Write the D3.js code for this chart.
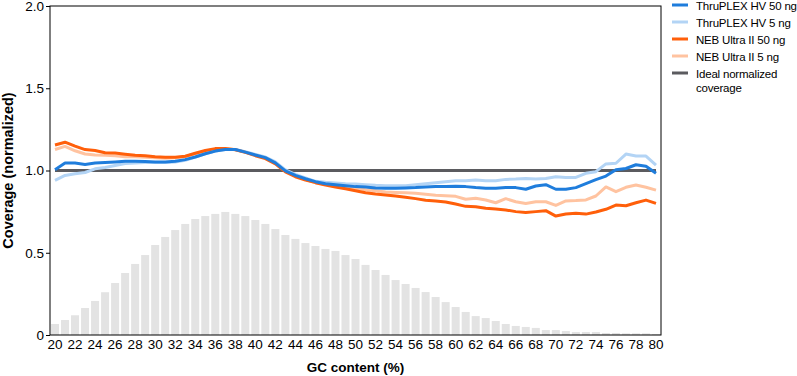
<!DOCTYPE html>
<html><head><meta charset="utf-8">
<script src="https://cdn.jsdelivr.net/npm/d3@7"></script>
<style>
body{margin:0;background:#fff;}
svg{display:block;font-family:"Liberation Sans",Arial,Helvetica,sans-serif;}
</style></head>
<body><svg id="c" width="797" height="376"></svg>
<script>
const gc = d3.range(20, 81);
const xTickLabels = d3.range(20, 81, 2);
const yTickValues = [0, 0.5, 1.0, 1.5, 2.0];
const yTickLabels = ["0", "0.5", "1.0", "1.5", "2.0"];

const gcBars = [0.067,0.091,0.12,0.164,0.207,0.26,0.316,0.377,0.432,0.486,0.547,0.596,0.638,0.675,0.705,0.723,0.736,0.748,0.736,0.723,0.699,0.675,0.644,0.608,0.584,0.559,0.541,0.523,0.511,0.486,0.462,0.426,0.395,0.365,0.334,0.31,0.286,0.261,0.231,0.2,0.17,0.14,0.115,0.103,0.085,0.067,0.055,0.049,0.043,0.03,0.03,0.024,0.018,0.018,0.018,0.012,0.012,0.01,0.01,0.01,0.006];

const thruplex50 = [1.005,1.045,1.045,1.037,1.045,1.048,1.052,1.056,1.056,1.054,1.052,1.052,1.056,1.066,1.082,1.102,1.118,1.128,1.128,1.112,1.094,1.078,1.046,0.998,0.970,0.950,0.932,0.920,0.914,0.908,0.902,0.900,0.894,0.892,0.892,0.894,0.896,0.900,0.902,0.902,0.904,0.902,0.896,0.892,0.892,0.896,0.896,0.886,0.906,0.914,0.886,0.886,0.896,0.920,0.944,0.966,1.005,1.012,1.035,1.026,0.983];
const thruplex5 = [0.940,0.970,0.980,0.988,1.010,1.018,1.030,1.042,1.046,1.048,1.048,1.048,1.052,1.062,1.082,1.102,1.118,1.128,1.128,1.114,1.098,1.082,1.052,1.004,0.976,0.955,0.934,0.928,0.924,0.920,0.918,0.914,0.910,0.908,0.908,0.908,0.914,0.920,0.926,0.932,0.938,0.938,0.942,0.938,0.938,0.946,0.948,0.952,0.948,0.952,0.962,0.958,0.958,0.983,0.993,1.040,1.044,1.100,1.088,1.088,1.033];
const neb50 = [1.155,1.172,1.148,1.127,1.122,1.108,1.106,1.099,1.093,1.090,1.084,1.080,1.080,1.087,1.105,1.122,1.133,1.134,1.126,1.110,1.090,1.072,1.040,0.992,0.962,0.942,0.926,0.912,0.900,0.889,0.877,0.865,0.857,0.851,0.845,0.837,0.829,0.819,0.815,0.809,0.796,0.782,0.780,0.770,0.766,0.760,0.750,0.744,0.750,0.756,0.723,0.735,0.740,0.735,0.748,0.764,0.790,0.786,0.804,0.820,0.800];
const neb5 = [1.128,1.147,1.120,1.100,1.094,1.092,1.090,1.084,1.083,1.080,1.078,1.074,1.078,1.084,1.102,1.118,1.128,1.132,1.127,1.112,1.094,1.076,1.044,0.996,0.966,0.946,0.926,0.916,0.906,0.900,0.892,0.883,0.877,0.869,0.867,0.865,0.861,0.855,0.849,0.847,0.843,0.825,0.831,0.821,0.804,0.829,0.810,0.800,0.810,0.810,0.788,0.815,0.817,0.821,0.845,0.900,0.871,0.898,0.912,0.898,0.881];
const ideal = gc.map(() => 1.0);

const seriesNames = ["ThruPLEX HV 50 ng","ThruPLEX HV 5 ng","NEB Ultra II 50 ng","NEB Ultra II 5 ng","Ideal normalized coverage"];
const seriesColors = ["#1f7ddc","#b3d4f5","#ff5f0a","#ffc3a0","#5b5b5f"];

const svg = d3.select("#c");
const L = 50, R = 661, T = 6, B = 335;
const x = d3.scaleBand().domain(gc).range([L, R]).paddingInner(0.2).paddingOuter(0.1);
const y = d3.scaleLinear().domain([0, 2]).range([B, T]);
const cx = g => x(g) + x.bandwidth() / 2;

// bars
svg.append("g").selectAll("rect").data(gc).join("rect")
  .attr("x", g => x(g)).attr("width", x.bandwidth())
  .attr("y", (g, i) => y(gcBars[i])).attr("height", (g, i) => B - y(gcBars[i]))
  .attr("fill", "#e3e3e3");

const line = vals => d3.line().x((d, i) => cx(gc[i])).y(d => y(d))(vals);
const order = [[ideal,4],[neb5,3],[thruplex5,1],[neb50,2],[thruplex50,0]];
order.forEach(([vals, ci]) => {
  svg.append("path").attr("d", line(vals)).attr("fill", "none")
    .attr("stroke", seriesColors[ci]).attr("stroke-width", 3)
    .attr("stroke-linejoin", "round").attr("stroke-linecap", "butt");
});

// frame
svg.append("rect").attr("x", L).attr("y", T).attr("width", R - L).attr("height", B - T)
  .attr("fill", "none").attr("stroke", "#000").attr("stroke-width", 1);

// y axis
const yAxis = d3.axisLeft(y).tickValues(yTickValues).tickSize(4)
  .tickFormat((d, i) => yTickLabels[i]);
const gy = svg.append("g").attr("transform", `translate(${L},0)`).call(yAxis);
gy.select(".domain").remove();
gy.selectAll("text").attr("font-size", 13.5).attr("fill", "#000").attr("x", -6)
  .attr("font-family", "Liberation Sans, Arial, sans-serif");

// x axis
const xAxis = d3.axisBottom(x).tickValues(xTickLabels).tickSize(0).tickPadding(4);
const gx = svg.append("g").attr("transform", `translate(0,${B})`).call(xAxis);
gx.select(".domain").remove();
gx.selectAll("text").attr("font-size", 13.5).attr("fill", "#000")
  .attr("font-family", "Liberation Sans, Arial, sans-serif");

// axis titles
svg.append("text").attr("x", (L + R) / 2).attr("y", 372).attr("text-anchor", "middle")
  .attr("font-size", 13.5).attr("font-weight", "bold").text("GC content (%)");
svg.append("text").attr("transform", `translate(13,${(T + B) / 2}) rotate(-90)`)
  .attr("text-anchor", "middle").attr("font-size", 14.5).attr("font-weight", "bold")
  .text("Coverage (normalized)");

// legend
const lg = svg.append("g");
seriesNames.forEach((name, i) => {
  const yy = 5 + i * 17;
  lg.append("line").attr("x1", 672).attr("x2", 688).attr("y1", yy).attr("y2", yy)
    .attr("stroke", seriesColors[i]).attr("stroke-width", 3);
  const t = lg.append("text").attr("x", 696).attr("y", yy + 4.5).attr("font-size", 11.5)
    .attr("letter-spacing", -0.2).attr("fill", "#000");
  if (i === 4) {
    t.append("tspan").attr("x", 696).text("Ideal normalized");
    t.append("tspan").attr("x", 696).attr("dy", 14.5).text("coverage");
  } else t.text(name);
});
</script></body></html>
